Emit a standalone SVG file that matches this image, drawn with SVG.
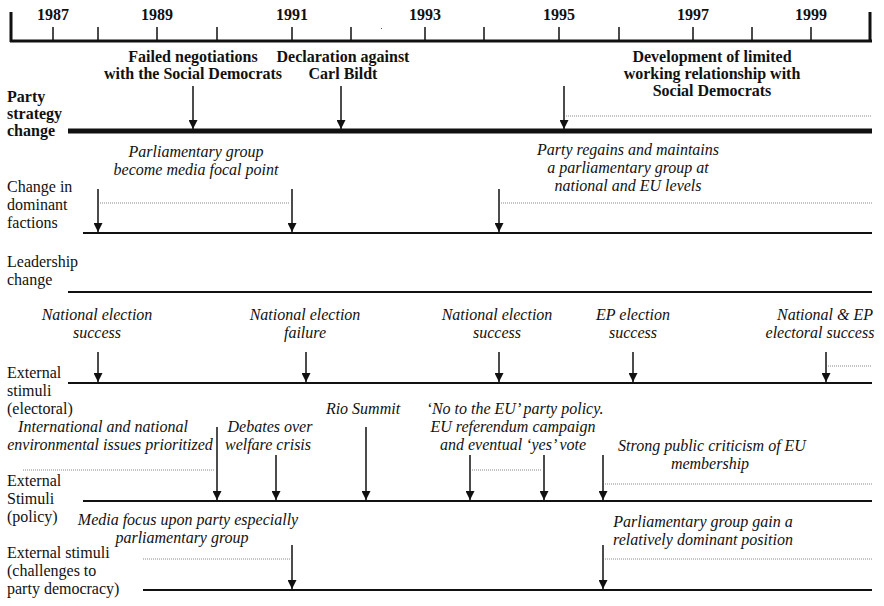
<svg xmlns="http://www.w3.org/2000/svg" width="884" height="606" viewBox="0 0 884 606">
  <style>
    text { font-family: "Liberation Serif", "Times New Roman", serif; font-size: 16px; fill: #111; }
    .b { font-weight: bold; }
    .i { font-style: italic; }
    .c { text-anchor: middle; }
    .axis { stroke: #111; stroke-width: 3; fill: none; }
    .tick { stroke: #111; stroke-width: 1.5; }
    .track { stroke: #111; stroke-width: 2; }
    .track-heavy { stroke: #111; stroke-width: 5; }
    .arrow { stroke: #111; stroke-width: 1.5; marker-end: url(#head); }
    .span { stroke: #888; stroke-width: 1; stroke-dasharray: 1 1; }
  </style>
  <defs>
    <marker id="head" markerUnits="userSpaceOnUse" viewBox="0 0 10 10" refX="10" refY="5" markerWidth="10" markerHeight="9" orient="auto">
      <path d="M0,0 L10,5 L0,10 z" fill="#111"/>
    </marker>
  </defs>
  <rect width="884" height="606" fill="#fff"/>

  <!-- time axis -->
  <g id="axis">
    <path class="axis" d="M11,12 V42 M10,41 H872 M870,12 V42"/>
    <path class="tick" d="M53,27 V40 M98,27 V40 M157,27 V40 M217,27 V40 M292,27 V40 M351,27 V40 M425,27 V40 M484,27 V40 M559,27 V40 M619,27 V40 M693,27 V40 M752,27 V40 M811,27 V40"/>
    <rect x="381" y="28" width="1" height="1" fill="#555"/>
    <text class="b c" x="53" y="20">1987</text>
    <text class="b c" x="157" y="20">1989</text>
    <text class="b c" x="292" y="20">1991</text>
    <text class="b c" x="425" y="20">1993</text>
    <text class="b c" x="559" y="20">1995</text>
    <text class="b c" x="693" y="20">1997</text>
    <text class="b c" x="811" y="20">1999</text>
  </g>

  <!-- row labels -->
  <g id="row-strategy">
    <text class="b" x="7" y="102">Party</text>
    <text class="b" x="7" y="119">strategy</text>
    <text class="b" x="7" y="136">change</text>
    <line class="track-heavy" x1="68" y1="131" x2="872" y2="131"/>
  </g>
  <g id="row-factions">
    <text x="7" y="192">Change in</text>
    <text x="7" y="210">dominant</text>
    <text x="7" y="228">factions</text>
    <line class="track" x1="83" y1="233" x2="872" y2="233"/>
  </g>
  <g id="row-leadership">
    <text x="7" y="267">Leadership</text>
    <text x="7" y="285">change</text>
    <line class="track" x1="68" y1="292" x2="872" y2="292"/>
  </g>
  <g id="row-electoral">
    <text x="7" y="378">External</text>
    <text x="7" y="396">stimuli</text>
    <text x="7" y="414">(electoral)</text>
    <line class="track" x1="68" y1="383" x2="872" y2="383"/>
  </g>
  <g id="row-policy">
    <text x="7" y="486">External</text>
    <text x="7" y="504">Stimuli</text>
    <text x="7" y="522">(policy)</text>
    <line class="track" x1="83" y1="501" x2="872" y2="501"/>
  </g>
  <g id="row-democracy">
    <text x="7" y="558">External stimuli</text>
    <text x="7" y="576">(challenges to</text>
    <text x="7" y="594">party democracy)</text>
    <line class="track" x1="143" y1="590" x2="872" y2="590"/>
  </g>

  <!-- event labels -->
  <g id="ev-failed-negotiations">
    <text class="b c" x="193" y="62">Failed negotiations</text>
    <text class="b c" x="193" y="79">with the Social Democrats</text>
  </g>
  <g id="ev-declaration">
    <text class="b c" x="343" y="62">Declaration against</text>
    <text class="b c" x="343" y="79">Carl Bildt</text>
  </g>
  <g id="ev-working-relationship">
    <text class="b c" x="712" y="62">Development of limited</text>
    <text class="b c" x="712" y="79">working relationship with</text>
    <text class="b c" x="712" y="96">Social Democrats</text>
  </g>
  <g id="ev-media-focal">
    <text class="i c" x="196" y="157">Parliamentary group</text>
    <text class="i c" x="196" y="175">become media focal point</text>
  </g>
  <g id="ev-regains-group">
    <text class="i c" x="628" y="155">Party regains and maintains</text>
    <text class="i c" x="628" y="173">a parliamentary group at</text>
    <text class="i c" x="628" y="191">national and EU levels</text>
  </g>
  <g id="ev-election-1988">
    <text class="i c" x="97" y="320">National election</text>
    <text class="i c" x="97" y="338">success</text>
  </g>
  <g id="ev-election-1991">
    <text class="i c" x="305" y="320">National election</text>
    <text class="i c" x="305" y="338">failure</text>
  </g>
  <g id="ev-election-1994">
    <text class="i c" x="497" y="320">National election</text>
    <text class="i c" x="497" y="338">success</text>
  </g>
  <g id="ev-ep-1995">
    <text class="i c" x="633" y="320">EP election</text>
    <text class="i c" x="633" y="338">success</text>
  </g>
  <g id="ev-election-1998">
    <text class="i c" x="825" y="320">National &amp; EP</text>
    <text class="i c" x="820" y="338">electoral success</text>
  </g>
  <g id="ev-environment">
    <text class="i c" x="103" y="432">International and national</text>
    <text class="i c" x="110" y="450">environmental issues prioritized</text>
  </g>
  <g id="ev-welfare">
    <text class="i c" x="270" y="432">Debates over</text>
    <text class="i c" x="268" y="450">welfare crisis</text>
  </g>
  <g id="ev-rio">
    <text class="i c" x="363" y="414">Rio Summit</text>
  </g>
  <g id="ev-eu-referendum">
    <text class="i c" x="515" y="414">‘No to the EU’ party policy.</text>
    <text class="i c" x="513" y="432">EU referendum campaign</text>
    <text class="i c" x="513" y="450">and eventual ‘yes’ vote</text>
  </g>
  <g id="ev-eu-criticism">
    <text class="i c" x="712" y="451">Strong public criticism of EU</text>
    <text class="i c" x="710" y="469">membership</text>
  </g>
  <g id="ev-media-focus">
    <text class="i c" x="188" y="525">Media focus upon party especially</text>
    <text class="i c" x="182" y="543">parliamentary group</text>
  </g>
  <g id="ev-group-dominant">
    <text class="i c" x="703" y="527">Parliamentary group gain a</text>
    <text class="i c" x="703" y="545">relatively dominant position</text>
  </g>

  <!-- connectors: event arrows and duration spans -->
  <g id="connectors">
    <line class="arrow" x1="193" y1="86" x2="193" y2="129"/>
    <line class="arrow" x1="341" y1="86" x2="341" y2="129"/>
    <line class="arrow" x1="564" y1="86" x2="564" y2="129"/>
    <line class="span" x1="566" y1="116" x2="872" y2="116"/>

    <line class="arrow" x1="98" y1="189" x2="98" y2="232"/>
    <line class="arrow" x1="292" y1="189" x2="292" y2="232"/>
    <line class="arrow" x1="499" y1="189" x2="499" y2="232"/>
    <line class="span" x1="100" y1="203" x2="290" y2="203"/>
    <line class="span" x1="501" y1="203" x2="872" y2="203"/>

    <line class="arrow" x1="98" y1="352" x2="98" y2="382"/>
    <line class="arrow" x1="306" y1="352" x2="306" y2="382"/>
    <line class="arrow" x1="499" y1="352" x2="499" y2="382"/>
    <line class="arrow" x1="633" y1="352" x2="633" y2="382"/>
    <line class="arrow" x1="826" y1="352" x2="826" y2="382"/>
    <line class="span" x1="828" y1="366" x2="872" y2="366"/>

    <line class="arrow" x1="217" y1="427" x2="217" y2="500"/>
    <line class="arrow" x1="276" y1="455" x2="276" y2="500"/>
    <line class="arrow" x1="366" y1="427" x2="366" y2="500"/>
    <line class="arrow" x1="470" y1="455" x2="470" y2="500"/>
    <line class="arrow" x1="544" y1="455" x2="544" y2="500"/>
    <line class="arrow" x1="603" y1="455" x2="603" y2="500"/>
    <line class="span" x1="23" y1="470" x2="215" y2="470"/>
    <line class="span" x1="472" y1="470" x2="542" y2="470"/>
    <line class="span" x1="605" y1="484" x2="872" y2="484"/>

    <line class="arrow" x1="292" y1="545" x2="292" y2="589"/>
    <line class="arrow" x1="603" y1="545" x2="603" y2="589"/>
    <line class="span" x1="143" y1="559" x2="290" y2="559"/>
    <line class="span" x1="605" y1="559" x2="872" y2="559"/>
  </g>
</svg>
